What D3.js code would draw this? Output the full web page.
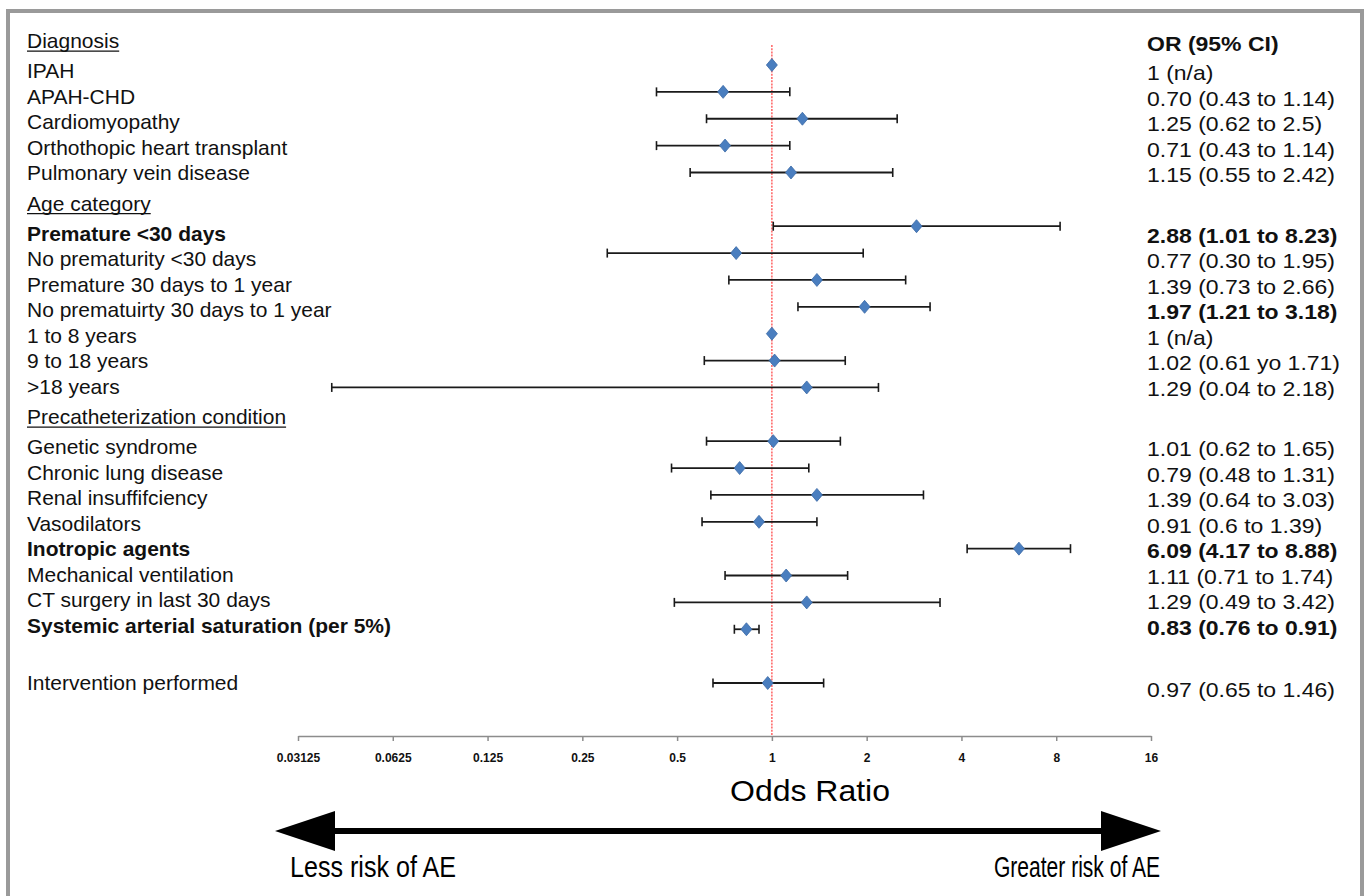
<!DOCTYPE html>
<html>
<head>
<meta charset="utf-8">
<script src="https://cdn.jsdelivr.net/npm/d3@7"></script>
<style>
  body { margin: 0; background: #fff; }
  svg { display: block; font-family: "Liberation Sans", Arial, sans-serif; }
</style>
</head>
<body>
<div id="chart"></div>
<script>
// group headers (null = no header line)
var groupNames = ["Diagnosis", "Age category", "Precatheterization condition", null];
var groupSizes = [5, 7, 8, 1];

// row labels, top to bottom
var rowLabels = [
  "IPAH", "APAH-CHD", "Cardiomyopathy", "Orthothopic heart transplant", "Pulmonary vein disease",
  "Premature <30 days", "No prematurity <30 days", "Premature 30 days to 1 year",
  "No prematuirty 30 days to 1 year", "1 to 8 years", "9 to 18 years", ">18 years",
  "Genetic syndrome", "Chronic lung disease", "Renal insuffifciency", "Vasodilators",
  "Inotropic agents", "Mechanical ventilation", "CT surgery in last 30 days",
  "Systemic arterial saturation (per 5%)",
  "Intervention performed"
];

// odds ratios and 95% CI (null = reference, no CI)
var oddsRatio = [1, 0.70, 1.25, 0.71, 1.15, 2.88, 0.77, 1.39, 1.97, 1, 1.02, 1.29,
                 1.01, 0.79, 1.39, 0.91, 6.09, 1.11, 1.29, 0.83, 0.97];
var ciLow  = [null, 0.43, 0.62, 0.43, 0.55, 1.01, 0.30, 0.73, 1.21, null, 0.61, 0.04,
              0.62, 0.48, 0.64, 0.6, 4.17, 0.71, 0.49, 0.76, 0.65];
var ciHigh = [null, 1.14, 2.5, 1.14, 2.42, 8.23, 1.95, 2.66, 3.18, null, 1.71, 2.18,
              1.65, 1.31, 3.03, 1.39, 8.88, 1.74, 3.42, 0.91, 1.46];

// text of the right column, as printed
var ciText = [
  "1 (n/a)", "0.70 (0.43 to 1.14)", "1.25 (0.62 to 2.5)", "0.71 (0.43 to 1.14)", "1.15 (0.55 to 2.42)",
  "2.88 (1.01 to 8.23)", "0.77 (0.30 to 1.95)", "1.39 (0.73 to 2.66)", "1.97 (1.21 to 3.18)",
  "1 (n/a)", "1.02 (0.61 yo 1.71)", "1.29 (0.04 to 2.18)",
  "1.01 (0.62 to 1.65)", "0.79 (0.48 to 1.31)", "1.39 (0.64 to 3.03)", "0.91 (0.6 to 1.39)",
  "6.09 (4.17 to 8.88)", "1.11 (0.71 to 1.74)", "1.29 (0.49 to 3.42)", "0.83 (0.76 to 0.91)",
  "0.97 (0.65 to 1.46)"
];

// bold rows
var boldLabelRows = [5, 16, 19];
var boldCiRows = [5, 8, 16, 19];

// axis
var tickValues = [0.03125, 0.0625, 0.125, 0.25, 0.5, 1, 2, 4, 8, 16];
var tickLabels = ["0.03125", "0.0625", "0.125", "0.25", "0.5", "1", "2", "4", "8", "16"];

var width = 1367, height = 896;

var svg = d3.select("#chart").append("svg")
  .attr("width", width)
  .attr("height", height);

// outer frame
svg.append("rect")
  .attr("x", 8).attr("y", 11)
  .attr("width", 1354).attr("height", 920)
  .attr("fill", "none")
  .attr("stroke", "#9a9a9a")
  .attr("stroke-width", 4);

//build rows: plot slot + text line position
var rows = [], headers = [];
var slot = 0, cursor = 41;
groupSizes.forEach(function(n, g){
  if (groupNames[g]) {
    headers.push({name: groupNames[g], y: cursor});
    cursor += 30;
  } else {
    cursor += 27;
  }
  for (var k = 0; k < n; k++) {
    var i = rows.length;
    rows.push({i: i, slot: slot, ty: cursor, last: g == groupSizes.length - 1});
    slot++;
    cursor += 25.5;
  }
  slot++;      // empty slot between groups
  cursor += 5;
});

var x = d3.scaleLog().base(2)
  .domain([0.03125, 16])
  .range([298, 1151]);

var y = d3.scaleLinear()
  .domain([0, 23])
  .range([65, 683]);

var axisY = 736;
var fs = 20;

// axis
var xAxis = d3.axisBottom(x)
  .tickValues(tickValues)
  .tickFormat(function(d, i){ return tickLabels[i]; })
  .tickSize(5)
  .tickSizeOuter(0)
  .tickPadding(12);

var ax = svg.append("g")
  .attr("transform", "translate(0," + axisY + ")")
  .call(xAxis);
ax.select(".domain").attr("stroke", "#8c8c8c").attr("stroke-width", 1.5);
ax.selectAll(".tick line").attr("stroke", "#8c8c8c").attr("stroke-width", 1.5);
ax.selectAll(".tick text")
  .attr("fill", "#111")
  .style("font-family", "'Liberation Sans Narrow', 'Liberation Sans', Arial, sans-serif")
  .style("font-size", "12px")
  .style("font-weight", "bold");

// reference line at OR = 1
svg.append("line")
  .attr("x1", x(1)).attr("x2", x(1))
  .attr("y1", 45).attr("y2", axisY)
  .attr("stroke", "#ff4a4a")
  .attr("stroke-width", 1.3)
  .attr("stroke-dasharray", "2,1.2");

// CI bars
var ciRows = rows.filter(function(r){ return ciLow[r.i] != null; });
var bars = svg.append("g").attr("class", "ci");
bars.selectAll("line.bar")
  .data(ciRows).enter().append("line")
  .attr("x1", function(r){ return x(ciLow[r.i]); })
  .attr("x2", function(r){ return x(ciHigh[r.i]); })
  .attr("y1", function(r){ return y(r.slot); })
  .attr("y2", function(r){ return y(r.slot); })
  .attr("stroke", "#1a1a1a").attr("stroke-width", 1.8);
[ciLow, ciHigh].forEach(function(arr){
  bars.selectAll(null)
    .data(ciRows).enter().append("line")
    .attr("x1", function(r){ return x(arr[r.i]); })
    .attr("x2", function(r){ return x(arr[r.i]); })
    .attr("y1", function(r){ return y(r.slot) - 4.5; })
    .attr("y2", function(r){ return y(r.slot) + 4.5; })
    .attr("stroke", "#1a1a1a").attr("stroke-width", 1.6);
});

// diamonds
svg.append("g").selectAll("path")
  .data(rows).enter().append("path")
  .attr("d", "M0,-6.5L5.5,0L0,6.5L-5.5,0Z")
  .attr("transform", function(r){ return "translate(" + x(oddsRatio[r.i]) + "," + y(r.slot) + ")"; })
  .attr("fill", "#4a7ebf")
  .attr("stroke", "#3b6aa6")
  .attr("stroke-width", 0.8);

// left labels (stretched a little, like the source)
var capOff = fs * 0.36;
var left = svg.append("g").attr("transform", "translate(27,0) scale(1.05,1)");
var hdr = left.selectAll("g.hdr")
  .data(headers).enter().append("g").attr("class", "hdr");
hdr.append("text")
  .attr("x", 0)
  .attr("y", function(d){ return d.y + capOff; })
  .attr("font-size", fs)
  .attr("fill", "#111")
  .text(function(d){ return d.name; })
  .each(function(d){
    var w = this.getComputedTextLength();
    d3.select(this.parentNode).append("line")
      .attr("x1", 0).attr("x2", w)
      .attr("y1", d.y + capOff + 3).attr("y2", d.y + capOff + 3)
      .attr("stroke", "#111").attr("stroke-width", 1.3);
  });

left.selectAll("text.lab")
  .data(rows).enter().append("text")
  .attr("class", "lab")
  .attr("x", 0)
  .attr("y", function(r){ return r.ty + capOff; })
  .attr("font-size", fs)
  .attr("font-weight", function(r){ return boldLabelRows.indexOf(r.i) >= 0 ? "bold" : "normal"; })
  .attr("fill", "#111")
  .text(function(r){ return rowLabels[r.i]; });

// right column (sits a touch lower than the labels)
var right = svg.append("g").attr("transform", "translate(1147,0) scale(1.15,1)");
right.append("text")
  .attr("x", 0)
  .attr("y", headers[0].y + 3 + capOff)
  .attr("font-size", fs)
  .attr("font-weight", "bold")
  .attr("fill", "#111")
  .text("OR (95% CI)");

right.selectAll("text.ci")
  .data(rows).enter().append("text")
  .attr("class", "ci")
  .attr("x", 0)
  .attr("y", function(r){ return r.ty + (r.last ? 7 : 2) + capOff; })
  .attr("font-size", fs)
  .attr("font-weight", function(r){ return boldCiRows.indexOf(r.i) >= 0 ? "bold" : "normal"; })
  .attr("fill", "#111")
  .text(function(r){ return ciText[r.i]; });

// axis title
svg.append("text")
  .attr("x", 810).attr("y", 801)
  .attr("text-anchor", "middle")
  .attr("font-size", 30)
  .attr("textLength", 160).attr("lengthAdjust", "spacingAndGlyphs")
  .attr("fill", "#000")
  .text("Odds Ratio");

// double arrow
var arrowY = 831, headL = 275, headR = 1161, headW = 60, headH = 20;
svg.append("line")
  .attr("x1", headL + 20).attr("x2", headR - 20)
  .attr("y1", arrowY).attr("y2", arrowY)
  .attr("stroke", "#000").attr("stroke-width", 6);
var arrowHead = d3.line();
svg.append("path")
  .attr("d", arrowHead([[headL, arrowY], [headL + headW, arrowY - headH], [headL + headW, arrowY + headH]]) + "Z")
  .attr("fill", "#000");
svg.append("path")
  .attr("d", arrowHead([[headR, arrowY], [headR - headW, arrowY - headH], [headR - headW, arrowY + headH]]) + "Z")
  .attr("fill", "#000");

svg.append("text")
  .attr("x", 290).attr("y", 877)
  .attr("font-size", 30)
  .attr("textLength", 166).attr("lengthAdjust", "spacingAndGlyphs")
  .attr("fill", "#000")
  .text("Less risk of AE");
svg.append("text")
  .attr("x", 1160).attr("y", 877)
  .attr("text-anchor", "end")
  .attr("font-size", 30)
  .attr("textLength", 166).attr("lengthAdjust", "spacingAndGlyphs")
  .attr("fill", "#000")
  .text("Greater risk of AE");
</script>
</body>
</html>
